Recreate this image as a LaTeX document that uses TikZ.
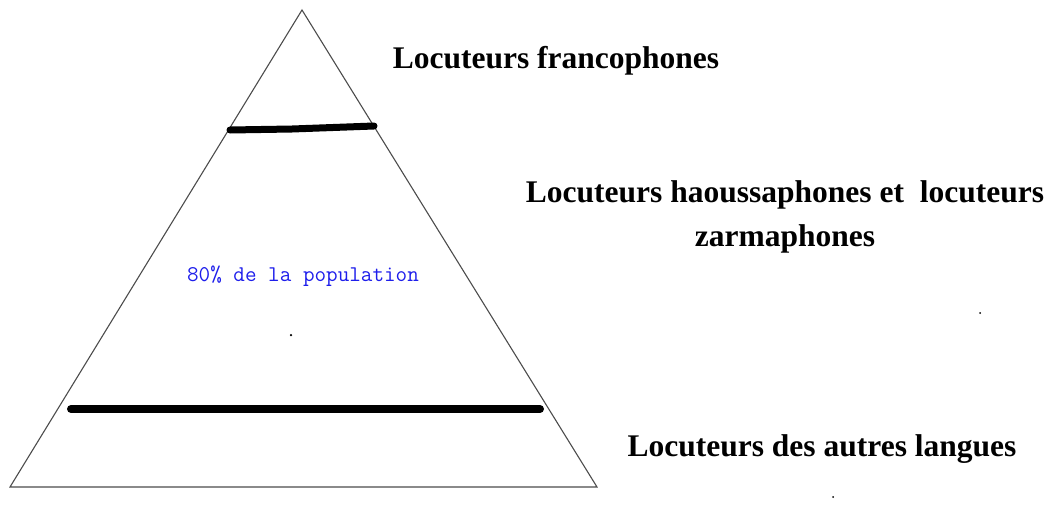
\documentclass[tikz,border=0pt]{standalone}
\usepackage{fontspec}
\setmainfont{Liberation Serif}
\usepackage{tikz}
\begin{document}
\begin{tikzpicture}[x=1pt,y=-1pt,
  edge/.style={draw=black!70,line width=1.1pt},
  bar/.style={draw=black,line width=7pt,line cap=round},
  label/.style={inner sep=0pt,anchor=base,font=\fontsize{31.5}{34}\selectfont\bfseries},
  blue text/.style={inner sep=0pt,anchor=base,text={rgb,255:red,30;green,30;blue,235},font=\fontsize{22.5}{24}\selectfont\ttfamily},
  speck/.style={fill=black,inner sep=0pt,minimum size=2.5pt,circle}]
\useasboundingbox (0,0) rectangle (1056,506);
\coordinate (apex) at (302,10);
\coordinate (bl) at (10,487);
\coordinate (br) at (597,487);
\draw[edge] (bl) -- (apex) -- (br) -- cycle;
\coordinate (t1) at (230,130);
\coordinate (t2) at (292,129);
\coordinate (t3) at (374,126);
\draw[bar] (t1) -- (t2) -- (t3);
\coordinate (b1) at (71,409);
\coordinate (b2) at (540,409);
\draw[bar,line width=8pt] (b1) -- (b2);
\node[label] (fr) at (556,68) {Locuteurs francophones};
\node[label] (ha) at (785,202) {Locuteurs haoussaphones et\ \ locuteurs};
\node[label] (za) at (785,246) {zarmaphones};
\node[label] (au) at (822,456) {Locuteurs des autres langues};
\node[blue text] (pop) at (303,281) {80\% de la population};
\node[speck] (d1) at (291,335) {};
\node[speck,minimum size=2pt] (d2) at (980,313) {};
\node[speck,minimum size=2pt] (d3) at (833,497) {};
\end{tikzpicture}
\end{document}
